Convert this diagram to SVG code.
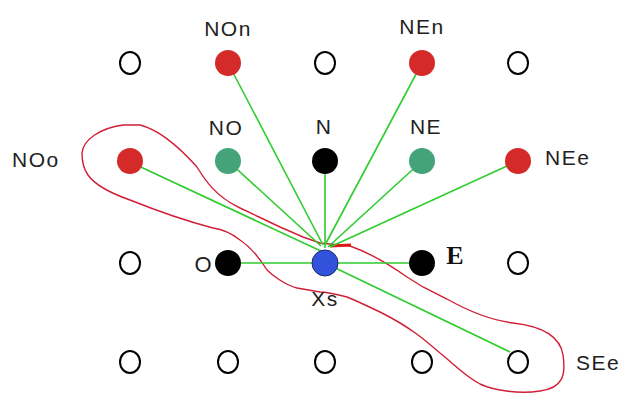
<svg xmlns="http://www.w3.org/2000/svg" width="624" height="398" viewBox="0 0 624 398">
<style>
.open{fill:#fff;stroke:#000;stroke-width:2}
.dot{stroke:none}
.red{fill:#d42a2a}
.teal{fill:#45a37a}
.blk{fill:#000}
.blue{fill:#3352dc;stroke:#1a2a70;stroke-width:1}
.lbl{font-family:"Liberation Sans",Arial,sans-serif;font-size:21px;fill:#222;letter-spacing:1.5px}
.edge{stroke:#2ecc2e;stroke-width:1.6;fill:none}
.lasso{stroke:#d01f35;stroke-width:1.4;fill:none}
</style>
<rect width="624" height="398" fill="#fff"/>
<g id="lasso">
<path class="lasso" d="M82,153 C83,140 100,128 123,125 L140,125 C160,130 180,148 197,167 C205,180 215,196 240,208 C255,215 265,220 280,227 L303,237 L320,243 L350,246 C370,253 390,265 407,277 L423,287 L447,299 C470,312 490,320 513,323 C540,326 560,335 563,355 C566,375 563,388 540,391 C520,394 495,391 480,384 C465,376 455,365 440,353 C425,340 410,327 380,312 C365,305 355,300 347,297 C335,294 325,292 320,292 L297,288 C285,285 272,275 267,270 C262,262 252,248 240,240 C230,232 220,229 213,228 C190,222 160,212 130,200 C110,193 95,185 88,175 C83,168 82,160 82,153 Z"/>
<path d="M330,246 L351,245" stroke="#e01818" stroke-width="3" fill="none"/>
</g>
<g id="connectors">
<line class="edge" x1="228" y1="63" x2="323" y2="245"/>
<line class="edge" x1="422" y1="63" x2="325" y2="245"/>
<line class="edge" x1="325" y1="161" x2="325" y2="248"/>
<line class="edge" x1="228" y1="161" x2="321" y2="246"/>
<line class="edge" x1="422" y1="161" x2="328" y2="247"/>
<line class="edge" x1="518" y1="161" x2="330" y2="247"/>
<line class="edge" x1="130" y1="162" x2="323" y2="252"/>
<line class="edge" x1="228" y1="263" x2="422" y2="263"/>
<line class="edge" x1="325" y1="263" x2="510" y2="352"/>
</g>
<g id="r1c1"><ellipse class="open" cx="130" cy="63" rx="10" ry="11"/></g>
<g id="NOn"><circle class="dot red" cx="228" cy="63" r="13"/><text class="lbl" x="228" y="36" text-anchor="middle">NOn</text></g>
<g id="r1c3"><ellipse class="open" cx="325" cy="63" rx="10" ry="11"/></g>
<g id="NEn"><circle class="dot red" cx="422" cy="63" r="13"/><text class="lbl" x="422" y="34" text-anchor="middle">NEn</text></g>
<g id="r1c5"><ellipse class="open" cx="518" cy="63" rx="10" ry="11"/></g>
<g id="NOo"><circle class="dot red" cx="130" cy="161" r="13"/><text class="lbl" x="12" y="167">NOo</text></g>
<g id="NO"><circle class="dot teal" cx="228" cy="161" r="13"/><text class="lbl" x="226" y="135" text-anchor="middle">NO</text></g>
<g id="N"><circle class="dot blk" cx="325" cy="161" r="13"/><text class="lbl" x="324" y="134" text-anchor="middle">N</text></g>
<g id="NE"><circle class="dot teal" cx="422" cy="161" r="13"/><text class="lbl" x="426" y="134" text-anchor="middle">NE</text></g>
<g id="NEe"><circle class="dot red" cx="518" cy="161" r="13"/><text class="lbl" x="545" y="165">NEe</text></g>
<g id="r3c1"><ellipse class="open" cx="130" cy="263" rx="10" ry="11"/></g>
<g id="O"><circle class="dot blk" cx="228" cy="263" r="13"/><text x="203" y="272" text-anchor="middle" font-family="Liberation Sans, Arial, sans-serif" font-size="22" fill="#222">O</text></g>
<g id="Xs"><circle class="blue" cx="325" cy="263" r="13"/><text class="lbl" x="325" y="306" text-anchor="middle">Xs</text></g>
<g id="E"><circle class="dot blk" cx="422" cy="263" r="13"/><text x="455" y="264" text-anchor="middle" font-family="Liberation Serif, Times New Roman, serif" font-weight="bold" font-size="26" fill="#111">E</text></g>
<g id="r3c5"><ellipse class="open" cx="518" cy="263" rx="10" ry="11"/></g>
<g id="r4c1"><ellipse class="open" cx="130" cy="362" rx="10" ry="11"/></g>
<g id="r4c2"><ellipse class="open" cx="228" cy="362" rx="10" ry="11"/></g>
<g id="r4c3"><ellipse class="open" cx="325" cy="362" rx="10" ry="11"/></g>
<g id="r4c4"><ellipse class="open" cx="422" cy="362" rx="10" ry="11"/></g>
<g id="SEe"><ellipse class="open" cx="518" cy="362" rx="10" ry="11"/><text class="lbl" x="576" y="370">SEe</text></g>
</svg>
